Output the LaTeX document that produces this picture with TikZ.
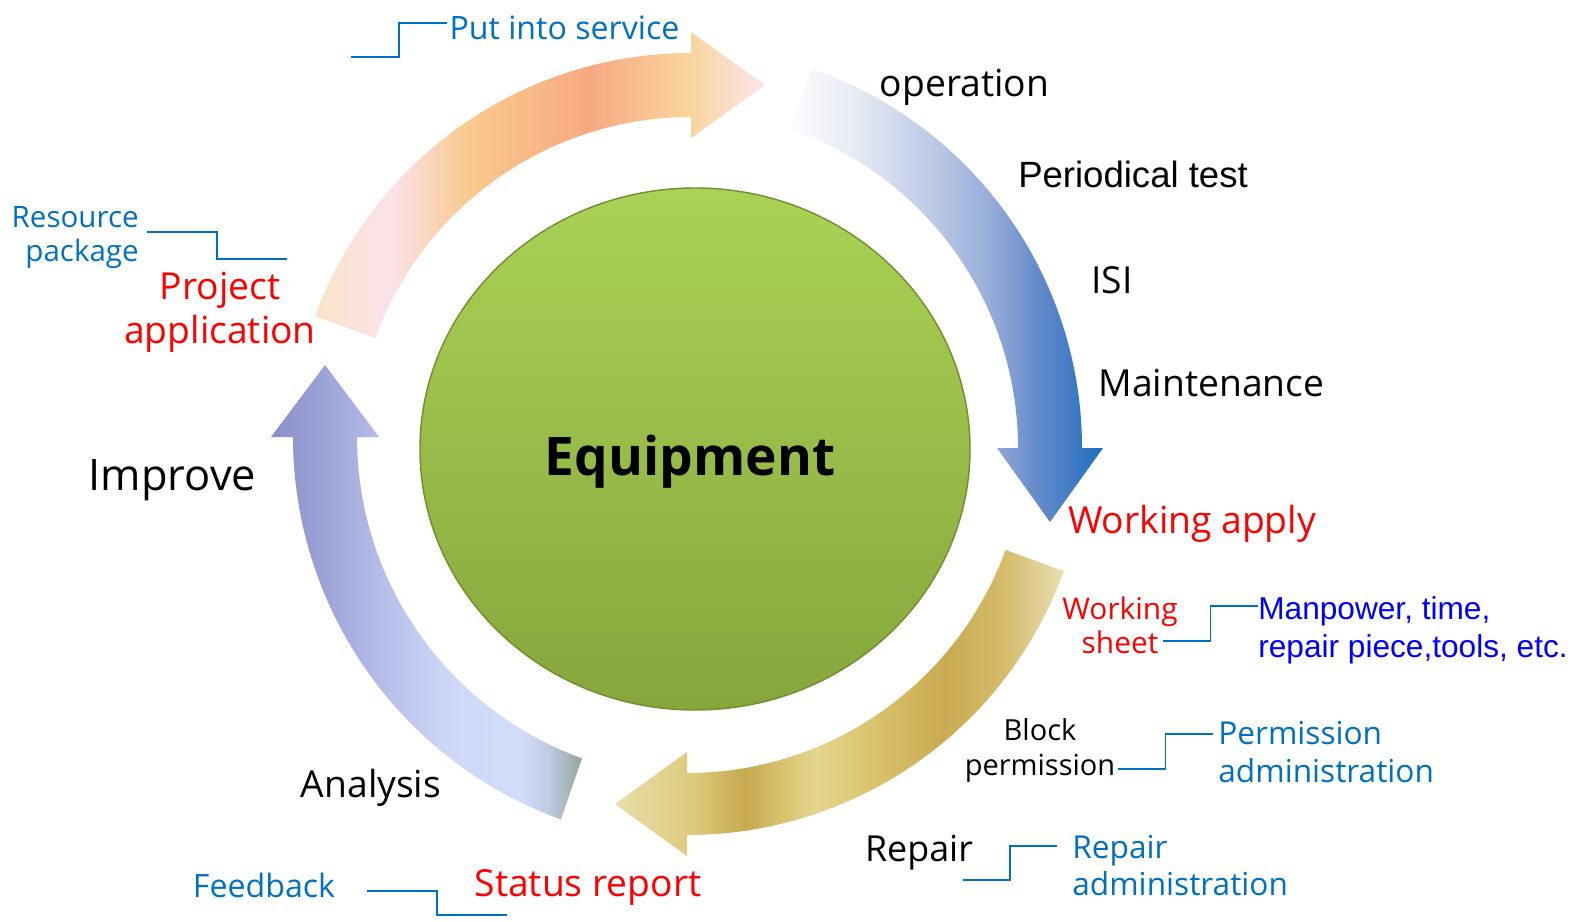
\documentclass[tikz,border=0pt]{standalone}
\usepackage{fontspec}
\setmainfont{Open Sans}
\newfontfamily\arialfont{Liberation Sans}
\usetikzlibrary{calc}

\definecolor{linkblue}{RGB}{0,112,192}
\definecolor{hotred}{RGB}{255,0,0}
\definecolor{pureblue}{RGB}{0,0,255}
\definecolor{hubtop}{RGB}{170,210,86}
\definecolor{hubbot}{RGB}{134,166,60}
\definecolor{hubedge}{RGB}{112,142,46}
% top arrow
\definecolor{tg1}{RGB}{249,228,200}
\definecolor{tg2}{RGB}{251,226,234}
\definecolor{tg3}{RGB}{248,201,140}
\definecolor{tg4}{RGB}{247,169,129}
\definecolor{tg5}{RGB}{249,213,157}
\definecolor{tg6}{RGB}{251,228,236}
% right arrow
\definecolor{bg1}{RGB}{252,252,254}
\definecolor{bg2}{RGB}{228,233,243}
\definecolor{bg3}{RGB}{190,203,230}
\definecolor{bg4}{RGB}{150,172,217}
\definecolor{bg5}{RGB}{98,137,203}
\definecolor{bg6}{RGB}{30,110,192}
% bottom arrow
\definecolor{gg1}{RGB}{232,222,170}
\definecolor{gg2}{RGB}{222,203,125}
\definecolor{gg3}{RGB}{200,170,80}
\definecolor{gg4}{RGB}{229,214,140}
\definecolor{gg5}{RGB}{216,192,106}
\definecolor{gg6}{RGB}{200,171,82}
\definecolor{gg7}{RGB}{212,186,104}
\definecolor{gg8}{RGB}{232,222,176}
% left arrow
\definecolor{lg1}{RGB}{138,142,200}
\definecolor{lg2}{RGB}{157,163,215}
\definecolor{lg3}{RGB}{181,189,232}
\definecolor{lg4}{RGB}{205,214,247}
\definecolor{lg5}{RGB}{211,221,251}
\definecolor{lg6}{RGB}{190,203,225}
\definecolor{lg7}{RGB}{147,166,155}

\pgfdeclarehorizontalshading{topgrad}{100bp}{color(0bp)=(tg1); color(25bp)=(tg1); color(33.3bp)=(tg2); color(42.2bp)=(tg3); color(55.6bp)=(tg4); color(66.7bp)=(tg5); color(75bp)=(tg6); color(100bp)=(tg6)}
\pgfdeclarehorizontalshading{bluegrad}{100bp}{color(0bp)=(bg1); color(25bp)=(bg1); color(36bp)=(bg2); color(47.3bp)=(bg3); color(57bp)=(bg4); color(65bp)=(bg5); color(75bp)=(bg6); color(100bp)=(bg6)}
\pgfdeclarehorizontalshading{goldgrad}{100bp}{color(0bp)=(gg1); color(25bp)=(gg1); color(33.4bp)=(gg2); color(39.5bp)=(gg3); color(47.3bp)=(gg4); color(54.5bp)=(gg5); color(61.7bp)=(gg6); color(67.9bp)=(gg7); color(75bp)=(gg8); color(100bp)=(gg8)}
\pgfdeclarehorizontalshading{lavgrad}{100bp}{color(0bp)=(lg1); color(25bp)=(lg1); color(33.5bp)=(lg2); color(42.7bp)=(lg3); color(52.8bp)=(lg4); color(65bp)=(lg5); color(69.7bp)=(lg6); color(75bp)=(lg7); color(100bp)=(lg7)}

\begin{document}
\begin{tikzpicture}[x=0.02cm, y=-0.02cm,
	txt/.style={inner sep=0pt, anchor=base, font=\fontsize{21.2}{25}\selectfont},
	note/.style={txt, text=linkblue, font=\fontsize{18.3}{21.6}\selectfont},
	hot/.style={txt, text=hotred},
	link/.style={draw=linkblue, line width=1.1pt},
	elbow/.style={to path={-| ($(\tikztostart)!.5!(\tikztotarget)$) |- (\tikztotarget)}}]
	\useasboundingbox (0,0) rectangle (1578,922);
	\fill[white] (0,0) rectangle (1578,922);

	\coordinate (ctop) at (691,453);
	\coordinate (cright) at (681,448);
	\coordinate (cbot) at (687,434);
	\coordinate (cleft) at (700,437);

	% the four ring arrows
	\shade[shading=topgrad] ([shift={(200:400)}]ctop) arc[start angle=200, end angle=270, radius=400]
		-- ++(0,-21) -- ++(74,53) -- ++(-74,53) -- ++(0,-21)
		arc[start angle=270, end angle=200, radius=336] -- cycle;
	\shade[shading=bluegrad] ([shift={(289:401)}]cright) arc[start angle=289, end angle=360, radius=401]
		-- ++(21,0) -- ++(-53,74) -- ++(-53,-74) -- ++(21,0)
		arc[start angle=360, end angle=289, radius=337] -- cycle;
	\shade[shading=goldgrad] ([shift={(20:401)}]cbot) arc[start angle=20, end angle=90, radius=401]
		-- ++(0,21) -- ++(-72,-52) -- ++(72,-52) -- ++(0,21)
		arc[start angle=90, end angle=20, radius=339] -- cycle;
	\shade[shading=lavgrad] ([shift={(110:407)}]cleft) arc[start angle=110, end angle=180, radius=407]
		-- ++(-22,0) -- ++(54,-72) -- ++(54,72) -- ++(-22,0)
		arc[start angle=180, end angle=110, radius=342] -- cycle;

	\shade[top color=hubtop, bottom color=hubbot, draw=hubedge, line width=0.8pt] (695,449) ellipse [x radius=275, y radius=261];
	\node[txt, font=\bfseries\fontsize{30.3}{36}\selectfont] (equip) at (690,475) {Equipment};

	\node[note] (put) at (564.5,40) {Put into service};
	\node[txt] (oper) at (964.5,97) {operation};
	\node[txt, font=\arialfont\fontsize{20.8}{25}\selectfont] (ptest) at (1133,188) {Periodical test};
	\node[txt] (isi) at (1112,293) {ISI};
	\node[txt] (maint) at (1211.5,396) {Maintenance};
	\node[hot] (wapply) at (1192,533) {Working apply};
	% two-line labels sit on their last line
	\node[hot, font=\fontsize{17}{19.3}\selectfont, align=center] (wsheet) at (1120,653) {Working\\sheet};
	\node[txt, text=pureblue, font=\arialfont\fontsize{18}{21.6}\selectfont, align=left, anchor=base west] (needs) at (1258,657) {Manpower, time,\\repair piece,tools, etc.};
	\node[txt, font=\fontsize{16.5}{19.9}\selectfont, align=center] (block) at (1040,775) {Block\\permission};
	\node[note, font=\fontsize{18}{21.6}\selectfont, align=left, anchor=base west] (permadm) at (1218,782) {Permission\\administration};
	\node[txt, font=\fontsize{20.4}{24}\selectfont] (repair) at (919,861) {Repair};
	\node[note, font=\fontsize{18}{21}\selectfont, align=left, anchor=base west] (repadm) at (1072,895) {Repair\\administration};
	\node[hot] (status) at (588,896) {Status report};
	\node[note] (feed) at (264,897) {Feedback};
	\node[txt] (analysis) at (371,797) {Analysis};
	\node[txt, font=\fontsize{24.7}{29}\selectfont] (improve) at (172.5,490) {Improve};
	\node[hot, font=\fontsize{21.2}{24.5}\selectfont, align=center] (project) at (220,343) {Project\\application};
	\node[note, font=\fontsize{16.8}{19.3}\selectfont, align=right, anchor=base east] (resource) at (139,261) {Resource\\package};

	% elbow links
	\coordinate (put-l) at (351,57);      \coordinate (put-r) at (447,23);
	\coordinate (res-l) at (147,232);     \coordinate (res-r) at (287,259);
	\coordinate (feed-l) at (367,891);    \coordinate (feed-r) at (507,915);
	\coordinate (sheet-l) at (1163,641);  \coordinate (sheet-r) at (1258,606);
	\coordinate (block-l) at (1118,769);  \coordinate (block-r) at (1213,734);
	\coordinate (rep-l) at (963,880);     \coordinate (rep-r) at (1057,846);
	\draw[link] (put-l) to[elbow] (put-r);
	\draw[link] (res-l) to[elbow] (res-r);
	\draw[link] (feed-l) to[elbow] (feed-r);
	\draw[link] (sheet-l) to[elbow] (sheet-r);
	\draw[link] (block-l) to[elbow] (block-r);
	\draw[link] (rep-l) to[elbow] (rep-r);
\end{tikzpicture}
\end{document}
